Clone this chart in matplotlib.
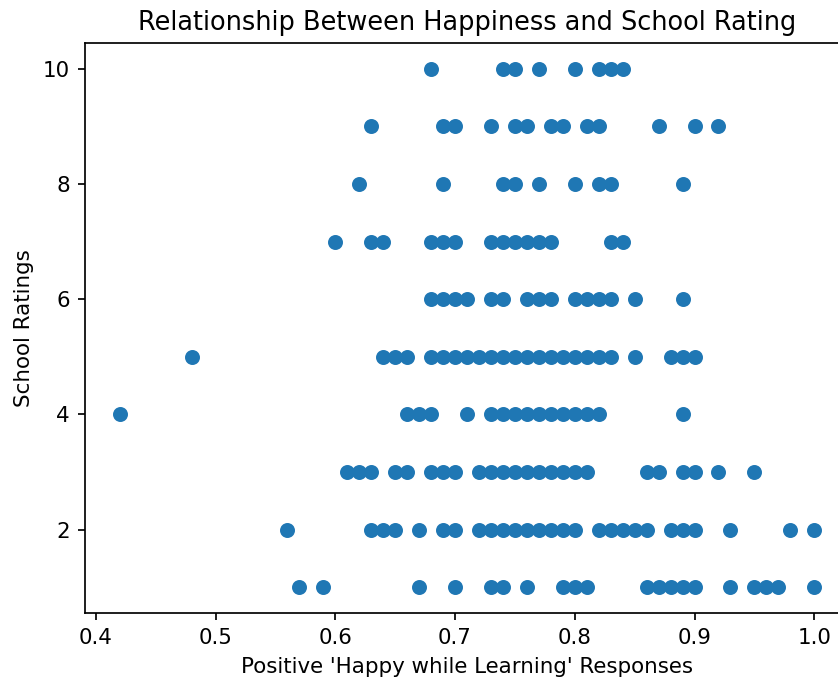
import matplotlib
matplotlib.use('Agg')
import matplotlib.pyplot as plt

# positive 'happy while learning' share, one list per school rating
happy_r10 = [0.68, 0.74, 0.75, 0.77, 0.80, 0.82, 0.83, 0.84]
happy_r9 = [0.63, 0.69, 0.70, 0.73, 0.75, 0.76, 0.78, 0.79, 0.81, 0.82,
            0.87, 0.90, 0.92]
happy_r8 = [0.62, 0.69, 0.74, 0.75, 0.77, 0.80, 0.82, 0.83, 0.89]
happy_r7 = [0.60, 0.63, 0.64, 0.68, 0.69, 0.70, 0.73, 0.74, 0.75, 0.76,
            0.77, 0.78, 0.83, 0.84]
happy_r6 = [0.68, 0.69, 0.70, 0.71, 0.73, 0.74, 0.76, 0.77, 0.78, 0.80,
            0.81, 0.82, 0.83, 0.85, 0.89]
happy_r5 = [0.48, 0.64, 0.65, 0.66, 0.68, 0.69, 0.70, 0.71, 0.72, 0.73,
            0.74, 0.75, 0.76, 0.77, 0.78, 0.79, 0.80, 0.81, 0.82, 0.83,
            0.85, 0.88, 0.89, 0.90]
happy_r4 = [0.42, 0.66, 0.67, 0.68, 0.71, 0.73, 0.74, 0.75, 0.76, 0.77,
            0.78, 0.79, 0.80, 0.81, 0.82, 0.89]
happy_r3 = [0.61, 0.62, 0.63, 0.65, 0.66, 0.68, 0.69, 0.70, 0.72, 0.73,
            0.74, 0.75, 0.76, 0.77, 0.78, 0.79, 0.80, 0.81, 0.86, 0.87,
            0.89, 0.90, 0.92, 0.95]
happy_r2 = [0.56, 0.63, 0.64, 0.65, 0.67, 0.69, 0.70, 0.72, 0.73, 0.74,
            0.75, 0.76, 0.77, 0.78, 0.79, 0.80, 0.82, 0.83, 0.84, 0.85,
            0.86, 0.88, 0.89, 0.90, 0.93, 0.98, 1.00]
happy_r1 = [0.57, 0.59, 0.67, 0.70, 0.73, 0.74, 0.76, 0.79, 0.80, 0.81,
            0.86, 0.87, 0.88, 0.89, 0.90, 0.93, 0.95, 0.96, 0.97, 1.00]

ratings = [10, 9, 8, 7, 6, 5, 4, 3, 2, 1]
happy = [happy_r10, happy_r9, happy_r8, happy_r7, happy_r6,
         happy_r5, happy_r4, happy_r3, happy_r2, happy_r1]

x = []
y = []
for r, vals in zip(ratings, happy):
    x += vals
    y += [r] * len(vals)

dpi = 154
fig = plt.figure(figsize=(838 / dpi, 679 / dpi), dpi=dpi)
# the original is cut off on the right, so the axes run past the figure edge
ax = fig.add_axes([85 / 838, 65.7 / 679, 764 / 838, 570.6 / 679])
ax.scatter(x, y)
ax.set_title('Relationship Between Happiness and School Rating')
ax.set_xlabel("Positive 'Happy while Learning' Responses")
ax.set_ylabel('School Ratings')
fig.savefig('out.png', dpi=dpi)
